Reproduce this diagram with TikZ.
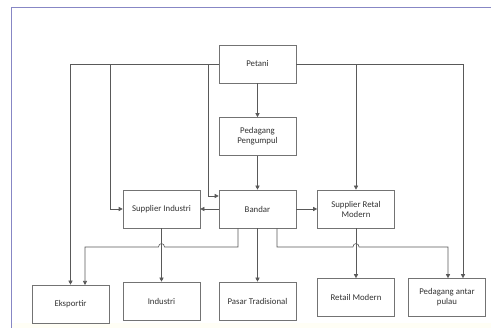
\documentclass[tikz,border=0pt]{standalone}
\usepackage{fontspec}
\setmainfont{Carlito}
\usetikzlibrary{arrows.meta}
\begin{document}
\begin{tikzpicture}[x=1pt, y=-1pt,
    every node/.style={draw=black!55, line width=0.6pt, rectangle, fill=white, minimum width=77pt, minimum height=38pt, inner sep=1pt, align=center, text=black!80, font=\fontsize{8.8}{10}\selectfont},
    link/.style={draw=black!65, line width=0.6pt},
    arr/.style={link, -{Triangle[length=4pt, width=4pt]}}]
    % \draw[help lines] (0,0) grid (491,328);
    \useasboundingbox (0,0) rectangle (491,328);
    \fill[white] (0,0) rectangle (491,328);
    \fill[yellow!4] (12,323) rectangle (491,328);
    \draw[blue!35!gray!70, line width=1pt] (11.5,328) -- (11.5,7.5) -- (491,7.5);

    \node (petani) at (257.5,64) {Petani};
    \node (pengumpul) at (257.5,136.5) {Pedagang\\Pengumpul};
    \node (supind) at (161.5,209) {Supplier Industri};
    \node (bandar) at (257.5,209) {Bandar};
    \node (supret) at (356,209) {Supplier Retal\\Modern};

    \node (eksportir) at (70.5,304) {Eksportir};
    \node (industri) at (161.5,301) {Industri};
    \node (pasar) at (257.5,301) {Pasar Tradisional};
    \node (retail) at (356,297.5) {Retail Modern};
    \node (antar) at (447,297.5) {Pedagang antar\\pulau};

    \coordinate (kiri1) at (110,209);
    \coordinate (kiri2) at (208,196);
    \coordinate (bawahkiri) at (238,247);
    \coordinate (bawahkanan) at (277,247);

    % dari petani
    \draw[arr] (petani.west) -| (eksportir.north);
    \draw[arr] (petani.west) -| (kiri1) -- (supind.west);
    \draw[arr] (petani.west) -| (kiri2) -- (kiri2 -| bandar.west);
    \draw[arr] (petani) -- (pengumpul);
    \draw[arr] (petani.east) -| (supret.north);
    \draw[arr] (petani.east) -| ([xshift=16pt]antar.north);

    \draw[arr] (pengumpul) -- (bandar);
    \draw[arr] (bandar) -- (supind);
    \draw[arr] (bandar) -- (supret);

    \draw[arr] (supind) -- (industri);
    \draw[arr] (bandar) -- (pasar);
    \draw[arr] (supret) -- (retail);

    % jalur bandar ke eksportir dan pedagang antar pulau
    \draw[arr] (bandar.south -| bawahkiri) -- (bawahkiri) -- (164.5,247) arc (0:-180:3 and 3.5) -- (85,247) -- (85,285);
    \draw[arr] (bandar.south -| bawahkanan) -- (bawahkanan) -- (353,247) arc (180:360:3 and 3.5) -- (448,247) -- ([xshift=1pt]antar.north);
\end{tikzpicture}
\end{document}
